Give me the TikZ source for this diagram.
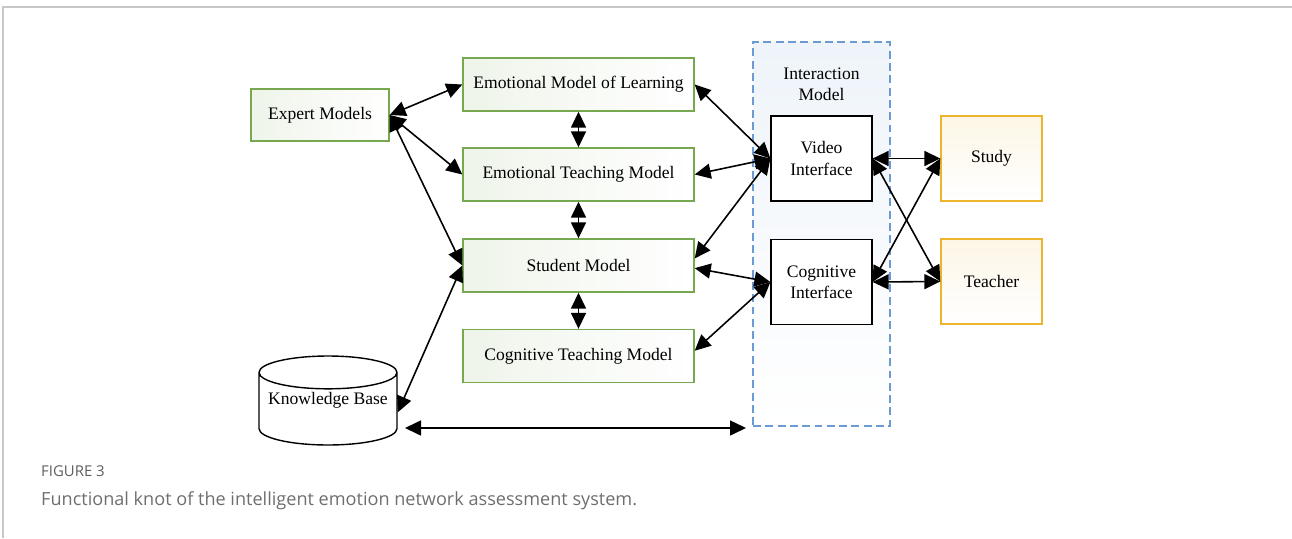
\documentclass[tikz,border=0pt]{standalone}
\usepackage{fontspec}
\setmainfont{Liberation Serif}
\newfontfamily\capfont{Open Sans}
\usetikzlibrary{arrows.meta,shapes.geometric}

\definecolor{boxgreen}{HTML}{77A74F}
\definecolor{boxorange}{HTML}{EDB52E}
\definecolor{dashblue}{HTML}{6A9BD2}
\definecolor{framegray}{HTML}{C8C8C8}
\definecolor{capgray}{HTML}{6E6E6E}

\begin{document}
\begin{tikzpicture}[x=0.02cm, y=-0.02cm, font=\fontsize{10}{12}\selectfont,
	model/.style={draw=boxgreen, line width=0.8pt, left color=boxgreen!12!white, right color=white, minimum width=4.62cm, minimum height=1.06cm},
	user/.style={draw=boxorange, line width=0.8pt, top color=boxorange!12!white, bottom color=white, minimum width=2.02cm, minimum height=1.7cm},
	iface/.style={draw, line width=0.7pt, fill=white, minimum width=2.02cm, minimum height=1.7cm, align=center},
	link/.style={{Triangle[length=3.2mm,width=3mm]}-{Triangle[length=3.2mm,width=3mm]}, line width=0.9pt}]
	
	\useasboundingbox (0,0) rectangle (1292,538);
	\draw [framegray, line width=1pt] (3,538) -- (3,7) -- (1292,7);
	
	% interaction part
	\node [draw=dashblue, dash pattern=on 4.5pt off 2.5pt, line width=0.8pt, top color=dashblue!11!white, bottom color=white, minimum width=2.74cm, minimum height=7.68cm] (im) at (821.5,234) {};
	\node [align=center] (iml) at (821.5,84) {Interaction\\Model};
	
	\node [iface] (video) at (821.5,158.5) {Video\\Interface};
	\node [iface] (cog) at (821.5,282) {Cognitive\\Interface};
	
	\node [user] (study) at (991.5,158.5) {Study};
	\node [user] (teacher) at (991.5,281.5) {Teacher};
	
	% models
	\node [model, minimum width=2.76cm, minimum height=1.04cm] (expert) at (320,115) {Expert Models};
	
	\node [model] (eml) at (578.5,84.5) {Emotional Model of Learning};
	\node [model] (etm) at (578.5,174.5) {Emotional Teaching Model};
	\node [model] (stu) at (578.5,265.5) {Student Model};
	\node [model] (ctm) at (578.5,356) {Cognitive Teaching Model};
	
	\node [draw, cylinder, shape border rotate=90, aspect=0.25, line width=0.8pt, fill=white, minimum width=2.76cm, minimum height=1.78cm, anchor=shape center] (kb) at (328,400.5) {\phantom{Knowledge Base}};
	\node (kbt) at (kb.shape center) {Knowledge Base};
	
	\draw [link] (expert.east) -- (eml.west);
	\draw [link] (expert.east) -- (etm.west);
	\draw [link] (expert.east) -- (stu.west);
	
	\draw [link] (eml) -- (etm);
	\draw [link] (etm) -- (stu);
	\draw [link] (stu) -- (ctm);
	
	\draw [link] (video.west) -- (eml.east);
	\draw [link] (video.west) -- (etm.east);
	\draw [link] (video.west) -- ([yshift=4pt]stu.east);
	\draw [link] (cog.west) -- ([yshift=-1.5pt]stu.east);
	\draw [link] (cog.west) -- ([yshift=3pt]ctm.east);
	
	\draw [link] (video.east) -- (study.west);
	\draw [link] (video.east) -- (teacher.west);
	\draw [link] (cog.east) -- (study.west);
	\draw [link] (cog.east) -- (teacher.west);
	
	\draw [link] (kb.east) -- (stu.west);
	
	\coordinate (kbr) at (405,428);
	\coordinate (imr) at (746,428);
	\draw [link] (kbr) -- (imr);
	
	% caption
	\node [anchor=west, text=capgray!85!black, font=\capfont\fontsize{8.5}{10}\selectfont] (fig) at (35,471) {FIGURE 3};
	\node [anchor=west, text=capgray, font=\capfont\fontsize{10.3}{12}\selectfont] (cap) at (35,501) {Functional knot of the intelligent emotion network assessment system.};
	
\end{tikzpicture}
\end{document}
